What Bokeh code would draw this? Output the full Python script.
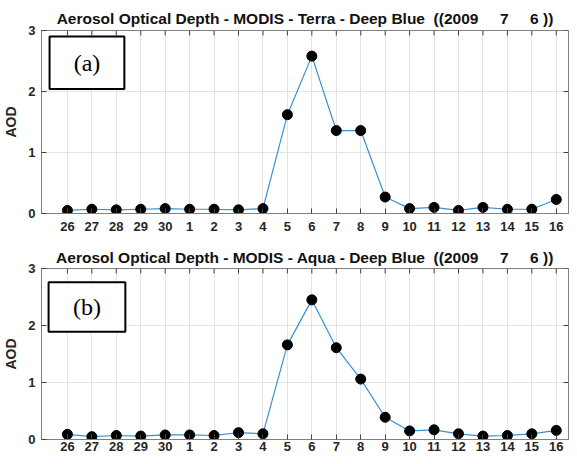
import math
from bokeh.plotting import figure
from bokeh.layouts import column
from bokeh.models import Range1d, FixedTicker, BoxAnnotation, Label
from bokeh.embed import file_html
from bokeh.resources import INLINE

days = ["26", "27", "28", "29", "30", "1", "2", "3", "4", "5", "6", "7", "8",
        "9", "10", "11", "12", "13", "14", "15", "16"]
terra_aod = [0.05, 0.07, 0.06, 0.07, 0.08, 0.07, 0.07, 0.06, 0.08, 1.62, 2.58,
             1.36, 1.36, 0.27, 0.08, 0.10, 0.05, 0.10, 0.07, 0.07, 0.23]
aqua_aod = [0.09, 0.05, 0.07, 0.06, 0.08, 0.08, 0.07, 0.12, 0.10, 1.66, 2.45,
            1.61, 1.06, 0.39, 0.15, 0.17, 0.10, 0.06, 0.07, 0.10, 0.16]
y_ticks = [0, 1, 2, 3]
NB = "\u00a0"
date_part = "((2009" + NB * 5 + "7" + NB * 5 + "6" + NB + "))"
titles = ["Aerosol Optical Depth - MODIS - Terra - Deep Blue" + NB * 2 + date_part,
          "Aerosol Optical Depth - MODIS - Aqua - Deep Blue" + NB * 2 + date_part]
panel_labels = ["(a)", "(b)"]

xs = list(range(len(days)))
FONT = "Liberation Sans"
X_START, X_END = -1.06, 20.5
Y_START, Y_END = 0, 3


def make_panel(vals, title, tag, height, top, bottom, standoff, title_standoff, box):
    p = figure(width=569, height=height, output_backend="svg", toolbar_location=None,
               x_range=Range1d(X_START, X_END), y_range=Range1d(Y_START, Y_END),
               min_border_left=40, min_border_right=1, min_border_top=top,
               min_border_bottom=bottom)
    p.title.text = title
    p.title.align = "center"
    p.title.text_font = FONT
    p.title.text_font_size = "15.5px"
    p.title.text_font_style = "bold"
    p.title.text_color = "#111111"
    p.title.standoff = title_standoff
    p.outline_line_color = "#808080"
    p.outline_line_width = 1
    p.background_fill_color = "white"

    p.xaxis.ticker = FixedTicker(ticks=xs)
    p.xaxis.major_label_overrides = {i: d for i, d in enumerate(days)}
    p.yaxis.ticker = FixedTicker(ticks=y_ticks)
    for ax in (p.xaxis, p.yaxis):
        ax.major_tick_in = 5
        ax.major_tick_out = 0
        ax.minor_tick_line_color = None
        ax.axis_line_color = "#808080"
        ax.major_tick_line_color = "#404040"
        ax.major_label_text_font = FONT
        ax.major_label_text_font_size = "13px"
        ax.major_label_text_font_style = "bold"
        ax.major_label_text_color = "#262626"
    p.xaxis.major_label_standoff = standoff
    p.yaxis.major_label_standoff = 6
    p.yaxis.axis_label = "AOD"
    p.yaxis.axis_label_text_font = FONT
    p.yaxis.axis_label_text_font_size = "14px"
    p.yaxis.axis_label_text_font_style = "bold"
    p.yaxis.axis_label_text_color = "#262626"
    p.yaxis.axis_label_standoff = 6

    p.grid.grid_line_color = "#e3e3e3"
    p.grid.grid_line_width = 1

    # inward tick marks on the top and right edges of the box (clipped to frame)
    p.scatter(xs, [Y_END] * len(xs), marker="dash", angle=math.pi / 2, size=10,
              line_color="#404040", line_width=1)
    p.scatter([X_END] * len(y_ticks), y_ticks, marker="dash", size=10,
              line_color="#404040", line_width=1)

    p.line(xs, vals, line_color="#3c8fd0", line_width=1.2)
    p.scatter(xs, vals, size=10, fill_color="black", line_color="black")

    l, r, b, t = box
    p.add_layout(BoxAnnotation(left=l, right=r, bottom=b, top=t, fill_color="white",
                               fill_alpha=1.0, line_color="black", line_width=2,
                               line_alpha=1.0))
    p.add_layout(Label(x=(l + r) / 2, y=(b + t) / 2, text=tag, text_align="center",
                       text_baseline="middle", text_font="Liberation Serif",
                       text_font_size="24px", text_color="black"))
    return p


p1 = make_panel(terra_aod, titles[0], panel_labels[0], 237, 30, 24, 8, 8,
                (-0.73, 2.33, 2.04, 2.90))
p2 = make_panel(aqua_aod, titles[1], panel_labels[1], 219, 31, 17, 2, 5,
                (-0.77, 2.37, 1.89, 2.76))

layout = column(p1, p2, spacing=0)
open("out.html", "w").write(file_html(layout, INLINE))
